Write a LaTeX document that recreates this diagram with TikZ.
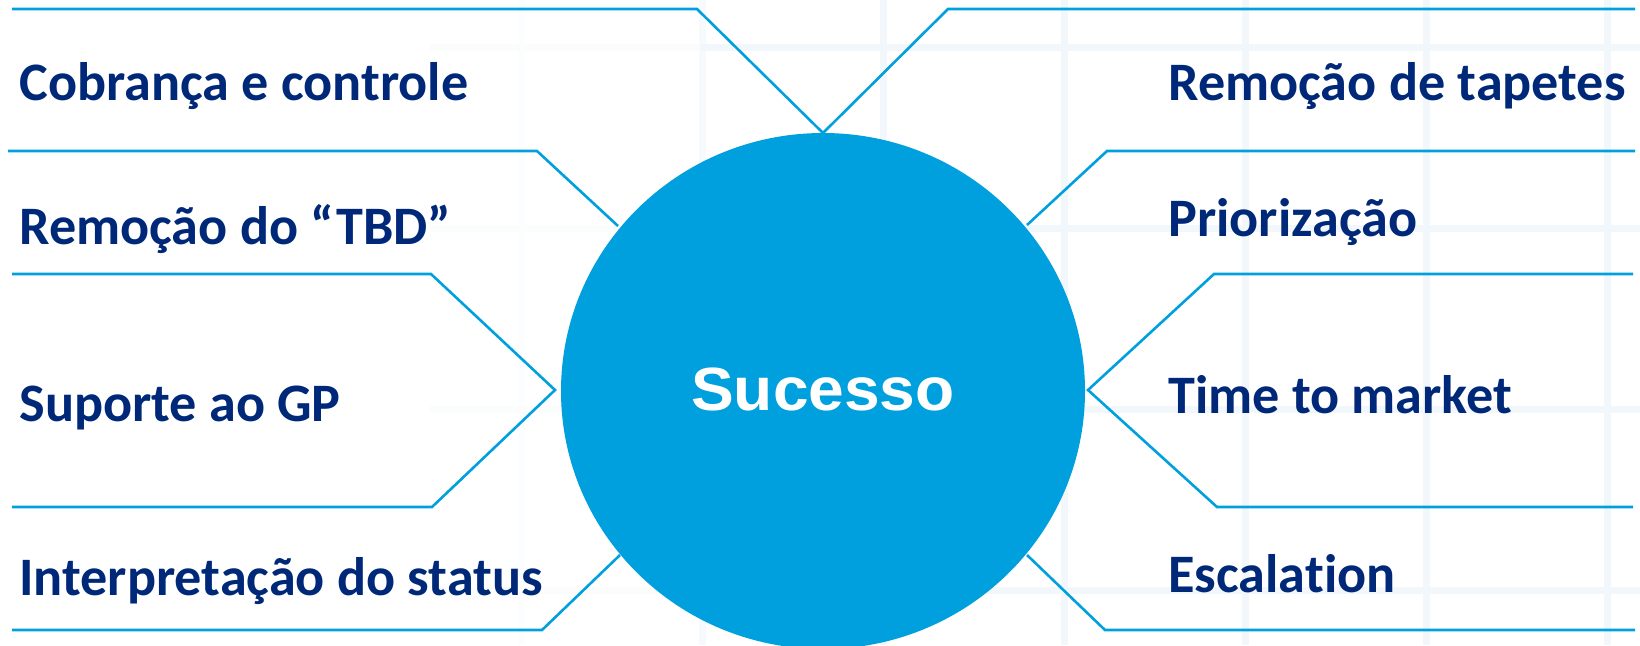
\documentclass[tikz,border=0pt]{standalone}
\usepackage{fontspec}
\setmainfont{Carlito}[Ligatures={TeX,CommonOff}]
\newfontfamily\sucessofont[FakeStretch=1.05]{Liberation Sans}
\usetikzlibrary{shapes.geometric}

\definecolor{linha}{RGB}{0,160,222}
\definecolor{texto}{RGB}{0,40,120}
\definecolor{grade}{RGB}{241,247,250}

\begin{document}
\begin{tikzpicture}[x=0.5pt, y=-0.5pt,
    ramo/.style={draw=linha, line width=1.3pt, line join=miter},
    rotulo/.style={anchor=base west, text=texto, inner sep=0pt,
      font=\bfseries\fontsize{27.1}{30}\selectfont}]
    % Page and faint grid
    \useasboundingbox (0,0) rectangle (1640,645);
    \fill[white] (0,0) rectangle (1640,645);
    \foreach \gx/\tom in {521/25, 702/60, 883/100, 1064/100, 1245/100, 1426/100, 1607/100}
      \draw[grade!\tom!white, line width=3.5pt] (\gx,0) -- (\gx,645);
    \foreach \gy in {47, 228, 409, 590} {
      \draw[grade!30!white, line width=3.5pt] (430,\gy) -- (700,\gy);
      \draw[grade, line width=3.5pt] (700,\gy) -- (1640,\gy);
    }

    % Centre
    \node[ellipse, fill=linha, minimum width=262pt, minimum height=258pt,
      inner sep=0pt, text=white, font=\sucessofont\bfseries\fontsize{30.5}{32}\selectfont]
      (sucesso) at (823,391) {\raisebox{1.5pt}{Sucesso}};

    % Tips next to the circle
    \coordinate (topo) at (823,133);
    \coordinate (esq) at (555,390);
    \coordinate (dir) at (1088,390);
    \coordinate (no) at (618,226);
    \coordinate (ne) at (1027,225);
    \coordinate (so) at (620,555);
    \coordinate (se) at (1027,555);

    % Left branches
    \coordinate (a1) at (12,9);    \coordinate (b1) at (697,9);
    \coordinate (a2) at (8,151);   \coordinate (b2) at (537,151);
    \coordinate (a3) at (12,274);  \coordinate (b3) at (431,274);
    \coordinate (a4) at (12,507);  \coordinate (b4) at (432,507);
    \coordinate (a5) at (12,630);  \coordinate (b5) at (542,630);
    \draw[ramo] (a1) -- (b1) -- (topo);
    \draw[ramo] (a2) -- (b2) -- (no);
    \draw[ramo] (a3) -- (b3) -- (esq) -- (b4) -- (a4);
    \draw[ramo] (a5) -- (b5) -- (so);

    % Right branches
    \coordinate (c1) at (1635,9);    \coordinate (d1) at (948,9);
    \coordinate (c2) at (1635,151);  \coordinate (d2) at (1107,151);
    \coordinate (c3) at (1633,274);  \coordinate (d3) at (1214,274);
    \coordinate (c4) at (1633,507);  \coordinate (d4) at (1217,507);
    \coordinate (c5) at (1635,630);  \coordinate (d5) at (1105,630);
    \draw[ramo] (c1) -- (d1) -- (topo);
    \draw[ramo] (c2) -- (d2) -- (ne);
    \draw[ramo] (c3) -- (d3) -- (dir) -- (d4) -- (c4);
    \draw[ramo] (c5) -- (d5) -- (se);

    % Labels
    \node[rotulo] (cobranca) at (19,100) {Cobrança e controle};
    \node[rotulo] (tbd) at (19,244) {Remoção do “TBD”};
    \node[rotulo] (suporte) at (19,421) {Suporte ao GP};
    \node[rotulo] (status) at (19,595) {Interpretação do status};
    \node[rotulo] (tapetes) at (1168,100) {Remoção de tapetes};
    \node[rotulo] (priorizacao) at (1168,236) {Priorização};
    \node[rotulo] (market) at (1168,413) {Time to market};
    \node[rotulo] (escalation) at (1168,592) {Escalation};
  \end{tikzpicture}
\end{document}
